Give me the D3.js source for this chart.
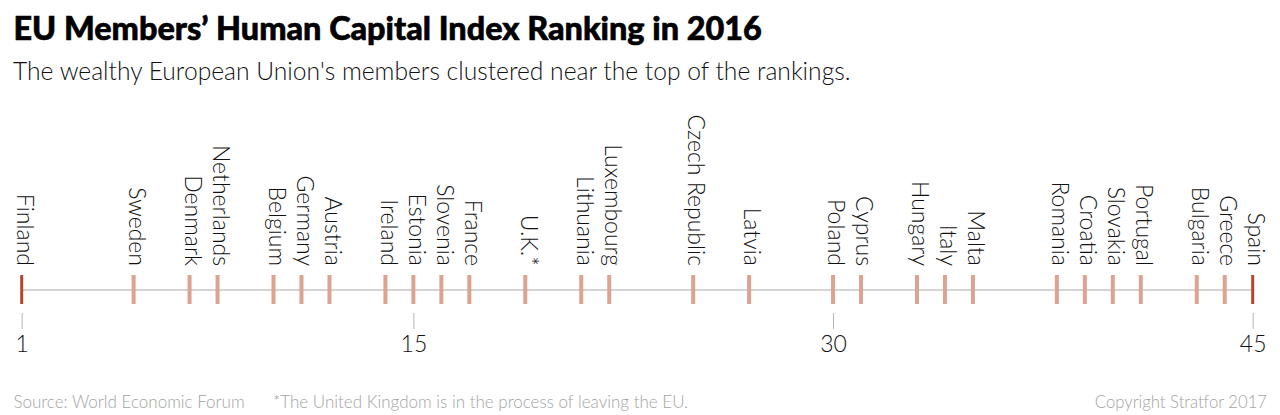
<!DOCTYPE html>
<html>
<head>
<meta charset="utf-8">
<script src="https://cdn.jsdelivr.net/npm/d3@7"></script>
<style>
  body { margin: 0; background: #fff; }
  text { font-family: Lato, "Open Sans", sans-serif; }
</style>
</head>
<body>
<div id="chart"></div>
<script>
const countries = ["Finland", "Sweden", "Denmark", "Netherlands", "Belgium", "Germany", "Austria",
  "Ireland", "Estonia", "Slovenia", "France", "U.K.*", "Lithuania", "Luxembourg", "Czech Republic",
  "Latvia", "Poland", "Cyprus", "Hungary", "Italy", "Malta", "Romania", "Croatia", "Slovakia",
  "Portugal", "Bulgaria", "Greece", "Spain"];
const ranks = [1, 5, 7, 8, 10, 11, 12, 14, 15, 16, 17, 19, 21, 22, 25, 27, 30, 31, 33, 34, 35, 38, 39, 40, 41, 43, 44, 45];
const tickLabels = [1, 15, 30, 45];
const endRanks = [1, 45];

const width = 1280, height = 415;
const axisY = 290;

const svg = d3.select("#chart").append("svg")
    .attr("width", width)
    .attr("height", height)
    .style("display", "block");

svg.append("text")
    .attr("x", 13.5).attr("y", 40)
    .attr("font-size", 32.4).attr("font-weight", 900)
    .attr("fill", "#000").attr("stroke", "#000").attr("stroke-width", 0.6)
    .text("EU Members\u2019 Human Capital Index Ranking in 2016");

svg.append("text")
    .attr("x", 13).attr("y", 80)
    .attr("font-size", 24.65).attr("font-weight", 300)
    .attr("fill", "#111")
    .text("The wealthy European Union's members clustered near the top of the rankings.");

const x = d3.scaleLinear().domain([1, 45]).range([21.7, 1252.7]);

// baseline
svg.append("line")
    .attr("x1", x(1)).attr("x2", x(45))
    .attr("y1", axisY).attr("y2", axisY)
    .attr("stroke", "#d4d4d4").attr("stroke-width", 2);

// rank axis below the strip
const axis = d3.axisBottom(x).tickValues(tickLabels).tickSize(16).tickSizeOuter(0).tickPadding(7);
const axisG = svg.append("g")
    .attr("transform", `translate(0, 313)`)
    .call(axis);
axisG.select(".domain").remove();
axisG.selectAll(".tick line").attr("stroke", "#b5b5b5");
axisG.selectAll(".tick text")
    .attr("font-size", 23).attr("font-weight", 300)
    .attr("fill", "#111")
    .style("font-family", "Lato");

// one mark per country
svg.append("g").selectAll("rect")
    .data(ranks)
    .join("rect")
    .attr("x", d => x(d) - (endRanks.includes(d) ? 1.5 : 2))
    .attr("y", 275)
    .attr("width", d => endRanks.includes(d) ? 3 : 4)
    .attr("height", 29)
    .attr("fill", d => endRanks.includes(d) ? "#b8442a" : "#dca391");

// rotated country names
svg.append("g").selectAll("text")
    .data(countries)
    .join("text")
    .attr("transform", (d, i) => `translate(${x(ranks[i]) - 4.7}, 266) rotate(90)`)
    .attr("text-anchor", "end")
    .attr("font-size", 23).attr("font-weight", 300)
    .attr("fill", "#111")
    .text(d => d);

// footer
const footer = svg.append("g")
    .attr("font-size", 17).attr("font-weight", 300)
    .attr("fill", "#a3a3a3");
footer.append("text").attr("x", 13.5).attr("y", 408).text("Source: World Economic Forum");
footer.append("text").attr("x", 273).attr("y", 408).text("*The United Kingdom is in the process of leaving the EU.");
footer.append("text").attr("x", 1267).attr("y", 408).attr("text-anchor", "end").attr("font-size", 16.7).text("Copyright Stratfor 2017");
</script>
</body>
</html>
